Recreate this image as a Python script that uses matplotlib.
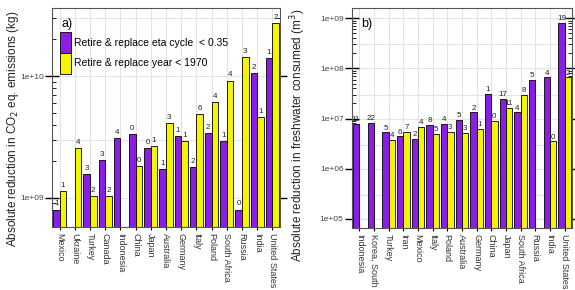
import numpy as np
import matplotlib
matplotlib.use("Agg")
import matplotlib.pyplot as plt
from matplotlib.patches import Patch
from matplotlib.ticker import LogLocator, NullFormatter

plt.rcParams['font.family'] = ['Liberation Sans', 'DejaVu Sans']

# ---- Panel a) CO2 ----
countries_a = ["Mexico", "Ukraine", "Turkey", "Canada", "Indonesia", "China", "Japan",
               "Australia", "Germany", "Italy", "Poland", "South Africa", "Russia",
               "India", "United States"]
eta_a = [8.0e8, np.nan, 1.56e9, 2.04e9, 3.11e9, 3.32e9, 2.58e9, 1.72e9, 3.21e9,
         1.78e9, 3.40e9, 2.92e9, 8.0e8, 1.06e10, 1.41e10]
year_a = [1.13e9, 2.55e9, 1.04e9, 1.04e9, np.nan, 1.82e9, 2.67e9, 4.09e9, 2.92e9,
          4.87e9, 6.08e9, 9.2e9, 1.43e10, 4.6e9, 2.71e10]
eta_a_lbl = ["1", "", "3", "3", "4", "0", "0", "1", "1", "2", "2", "1", "0", "2", "1"]
year_a_lbl = ["1", "4", "2", "2", "", "0", "1", "3", "1", "6", "4", "4", "3", "1", "2"]

# ---- Panel b) freshwater ----
countries_b = ["Indonesia", "Korea, South", "Turkey", "Iran", "Mexico", "Italy", "Poland",
               "Australia", "Germany", "China", "Japan", "South Africa", "Russia",
               "India", "United States"]
eta_b = [7.9e6, 8.2e6, 5.3e6, 4.4e6, 4.0e6, 7.4e6, 7.8e6, 9.5e6, 1.33e7, 3.15e7,
         2.45e7, 1.33e7, 5.8e7, 6.6e7, 8.2e8]
year_b = [np.nan, np.nan, 3.7e6, 5.4e6, 6.9e6, 4.9e6, 5.5e6, 5.1e6, 6.2e6, 9.0e6,
          1.63e7, 2.91e7, np.nan, 3.5e6, 6.6e7]
eta_b_lbl = ["11", "22", "5", "6", "2", "8", "4", "5", "2", "1", "17", "4", "5", "4", "19"]
year_b_lbl = ["", "", "4", "7", "4", "5", "3", "3", "1", "0", "11", "8", "", "0", "2"]

PURPLE = "#8a1ee6"
YELLOW = "#f5f500"
W = 0.43

fig = plt.figure(figsize=(5.75, 2.9), dpi=100)
ax1 = fig.add_axes([0.0904, 0.2172, 0.3965, 0.7552])
ax2 = fig.add_axes([0.612, 0.2138, 0.3826, 0.7586])


def draw(ax, cats, eta, year, eta_l, year_l, ylim, ylabel, panel):
    x = np.arange(len(cats))
    ax.set_yscale('log')
    ax.set_ylim(*ylim)
    ax.set_xlim(-0.5, len(cats) - 0.5)
    # grid
    lo, hi = int(np.floor(np.log10(ylim[0]))), int(np.ceil(np.log10(ylim[1])))
    for k in range(lo, hi + 1):
        for m in (1, 3):
            v = m * 10.0 ** k
            if ylim[0] < v < ylim[1]:
                ax.axhline(v, color='#e3e3e3', lw=0.8, zorder=0)
    for xi in x:
        ax.axvline(xi, color='#e3e3e3', lw=0.8, zorder=0)
    e = np.array(eta, dtype=float)
    y = np.array(year, dtype=float)
    ax.bar(x - W / 2, np.nan_to_num(e, nan=0.0), width=W, bottom=1, color=PURPLE,
           edgecolor='black', linewidth=0.6, zorder=2)
    ax.bar(x + W / 2, np.nan_to_num(y, nan=0.0), width=W, bottom=1, color=YELLOW,
           edgecolor='black', linewidth=0.6, zorder=2)
    for xi, v, l in zip(x, e, eta_l):
        if l and not np.isnan(v):
            ax.text(xi - W / 2, v * 1.04, l, ha='center', va='bottom', fontsize=5.8,
                    color='#222', zorder=3)
    for xi, v, l in zip(x, y, year_l):
        if l and not np.isnan(v):
            ax.text(xi + W / 2, v * 1.04, l, ha='center', va='bottom', fontsize=5.8,
                    color='#222', zorder=3)
    ax.set_xticks(x)
    ax.set_xticklabels(cats, rotation=-90, fontsize=6.5, color='#333')
    ax.tick_params(axis='x', length=2, width=0.8, pad=2)
    ax.yaxis.set_major_locator(LogLocator(base=10, numticks=20))
    ax.yaxis.set_minor_locator(LogLocator(base=10, subs=np.arange(2, 10), numticks=20))
    ax.yaxis.set_minor_formatter(NullFormatter())
    ax.yaxis.set_major_formatter(matplotlib.ticker.FuncFormatter(
        lambda v, p: "1e+%02d" % int(round(np.log10(v)))))
    ax.tick_params(axis='y', which='major', direction='inout', length=10, width=1.0,
                   labelsize=6, labelcolor='#444', right=True, pad=1)
    ax.tick_params(axis='y', which='minor', direction='in', length=3, width=0.6,
                   right=True)
    for s in ax.spines.values():
        s.set_color('#555')
        s.set_linewidth(0.8)
    ax.set_ylabel(ylabel, fontsize=8.5, color='#222')
    ax.text(0.04, 0.955, panel, transform=ax.transAxes, fontsize=9, va='top', ha='left')


draw(ax1, countries_a, eta_a, year_a, eta_a_lbl, year_a_lbl, (5.75e8, 3.63e10),
     "Absolute reduction in CO$_2$ eq. emissions (kg)", "a)")
draw(ax2, countries_b, eta_b, year_b, eta_b_lbl, year_b_lbl, (6.6e4, 1.6e9),
     "Absolute reduction in freshwater consumed (m$^3$)", "b)")
ax1.yaxis.set_label_coords(-0.135, 0.45)
ax2.yaxis.set_label_coords(-0.20, 0.42)

handles = [Patch(facecolor=PURPLE, edgecolor='black', linewidth=0.6),
           Patch(facecolor=YELLOW, edgecolor='black', linewidth=0.6)]
ax1.legend(handles, ["Retire & replace eta cycle  < 0.35", "Retire & replace year < 1970"],
           loc='upper left', bbox_to_anchor=(0.035, 0.89), frameon=False, fontsize=7.5,
           handlelength=1.05, handleheight=2.7, labelspacing=0.0, handletextpad=0.3,
           borderaxespad=0, borderpad=0)

fig.savefig("out.png", dpi=100)
